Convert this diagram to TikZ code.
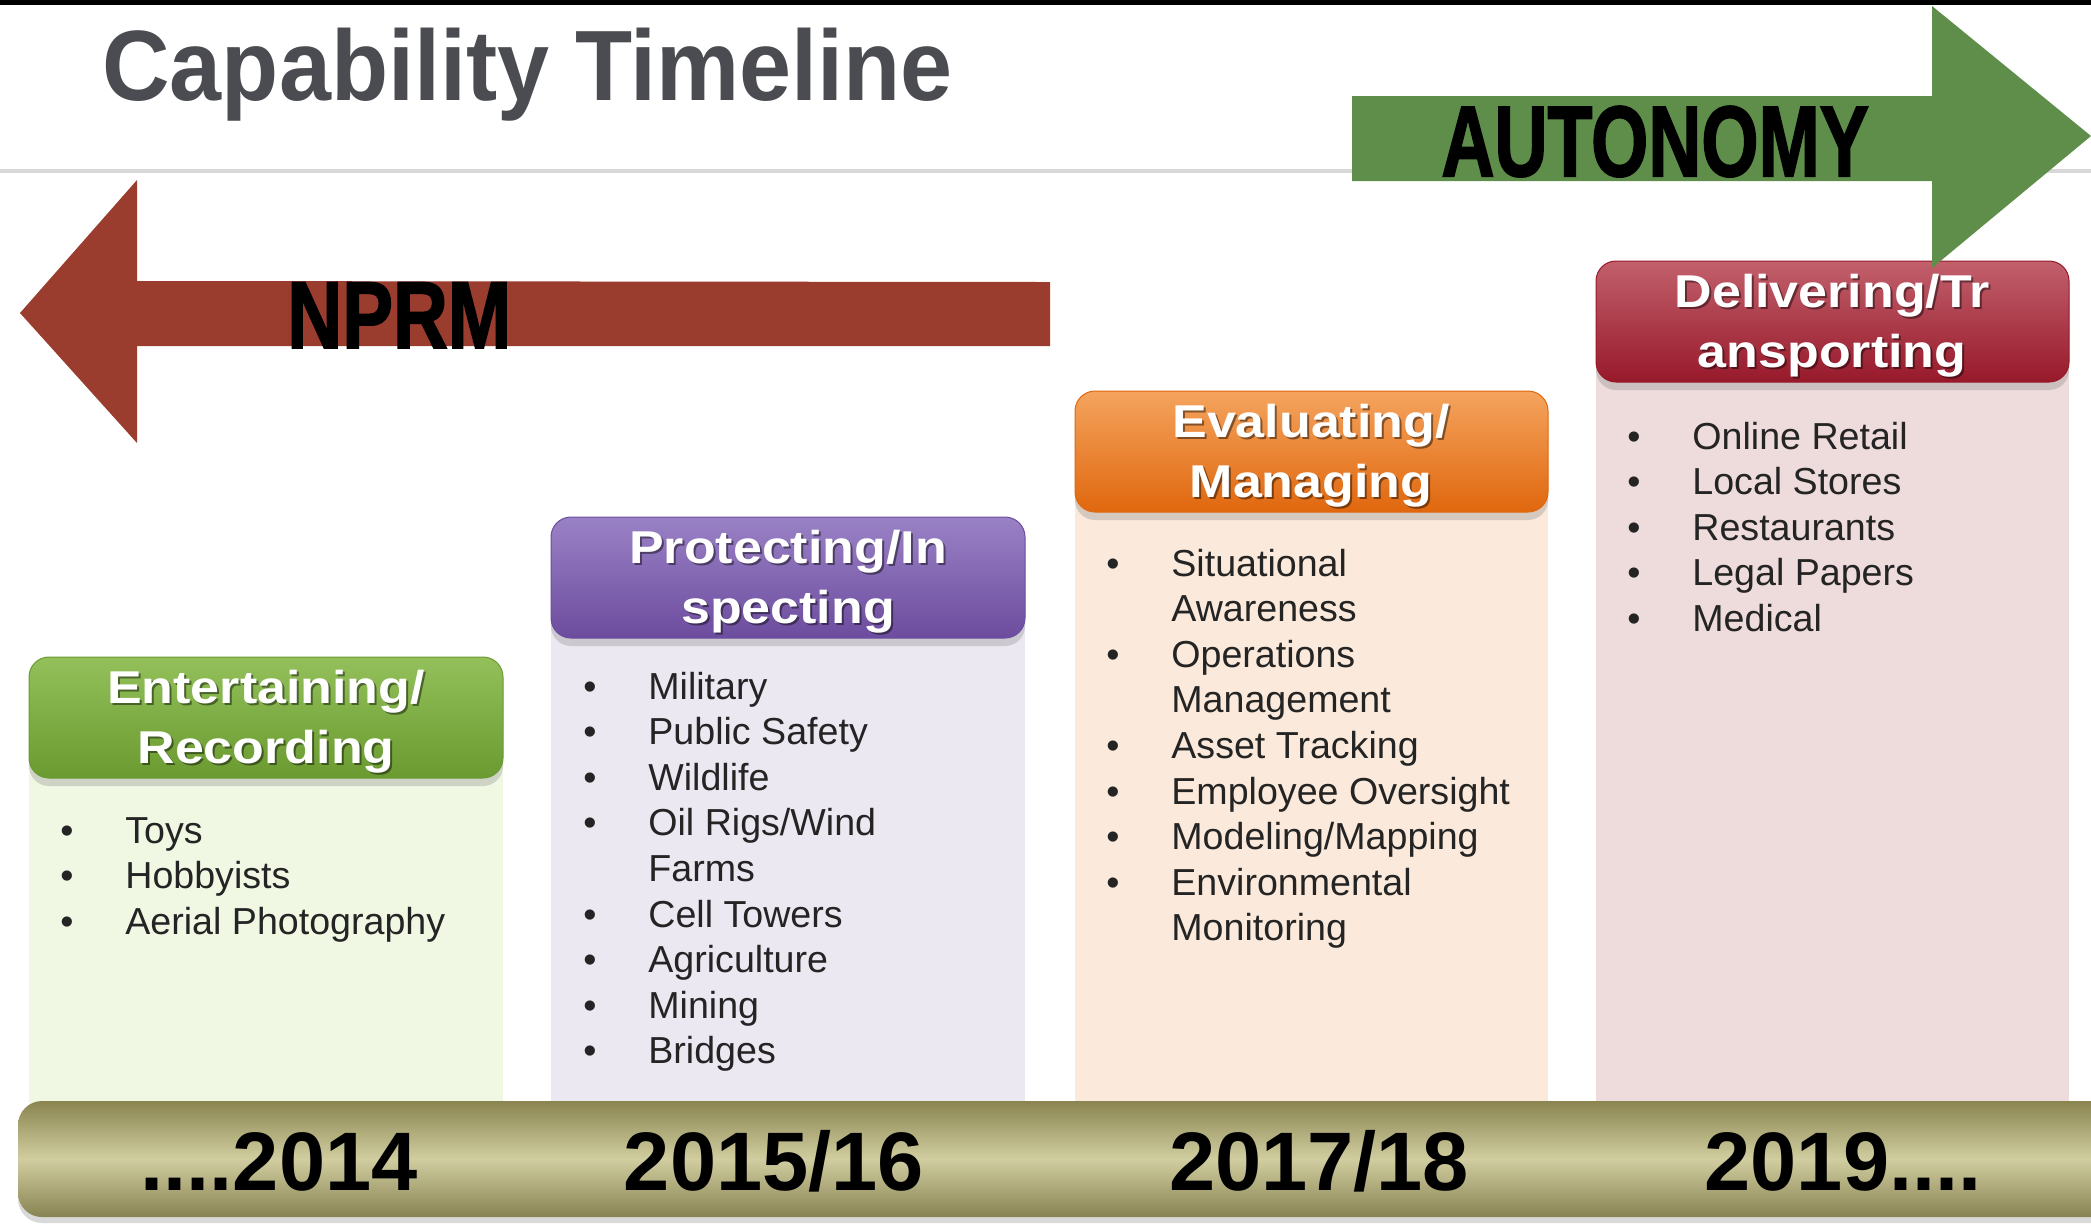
\documentclass[tikz,border=0pt]{standalone}
\usepackage{fontspec}
\setmainfont{Liberation Sans}
\newfontfamily\heavyfont{Liberation Sans}[BoldFeatures={FakeBold=2}]
\usepackage{xcolor}
\usepackage{tikz}
\usetikzlibrary{shadows}

\definecolor{titlegray}{HTML}{4A4C51}
\definecolor{rulegray}{HTML}{D8D8D8}
\definecolor{nprmred}{HTML}{9A3C2E}
\definecolor{autogreen}{HTML}{5F8E4B}
\definecolor{itemgray}{HTML}{242424}
% column colours
\definecolor{entlight}{HTML}{F0F8E4}
\definecolor{enttop}{HTML}{93C05A}
\definecolor{entbot}{HTML}{6A9A30}
\definecolor{prolight}{HTML}{ECE8F2}
\definecolor{protop}{HTML}{9A82C6}
\definecolor{probot}{HTML}{6C4C9E}
\definecolor{evalight}{HTML}{FBEADB}
\definecolor{evatop}{HTML}{F4A45E}
\definecolor{evabot}{HTML}{E0670E}
\definecolor{dellight}{HTML}{EEDBDB}
\definecolor{deltop}{HTML}{C2606C}
\definecolor{delbot}{HTML}{97192A}
% timeline bar
\definecolor{bartop}{HTML}{8A8550}
\definecolor{barmid}{HTML}{D0CDA0}
\definecolor{barbot}{HTML}{888352}

\newcommand{\twolines}[2]{\scalebox{1.13}[1]{\begin{tabular}[t]{@{}c@{}}#1\\#2\end{tabular}}}

\begin{document}
\begin{tikzpicture}[x=0.5pt,y=-0.5pt,
  header/.style={rounded corners=10pt,drop shadow={shadow xshift=0pt,shadow yshift=-4pt,opacity=.3}},
  headtext/.style={inner sep=0pt,anchor=base,text=white,font=\fontsize{23}{30}\selectfont\bfseries},
  headshade/.style={headtext,text=black,opacity=.45},
  items/.style={inner sep=0pt,anchor=base west,text=itemgray,font=\fontsize{18.8}{22.8}\selectfont},
  year/.style={inner sep=0pt,anchor=base,font=\fontsize{41.5}{48}\selectfont\bfseries},
  bigword/.style={inner sep=0pt,anchor=base west}]

    \useasboundingbox (0,0) rectangle (2091,1223);
    \clip (0,0) rectangle (2091,1223);

    % Title
    \fill[black] (0,0) rectangle (2091,5);
    \draw[rulegray,line width=2pt] (0,171) -- (2091,171);
    \node [anchor=base west,inner sep=0pt,text=titlegray,font=\fontsize{50}{60}\selectfont\bfseries] at (102,100) (title) {\scalebox{0.935}[1]{Capability Timeline}};

    % NPRM arrow
    \fill[nprmred] (20,313) -- (137,180) -- (137,281) -- (1050,282) -- (1050,346) -- (137,346) -- (137,443) -- cycle;
    \node [bigword,font=\heavyfont\bfseries\fontsize{47.5}{56}\selectfont] at (287,348) (nprm) {\scalebox{0.8}[1]{NPRM}};

    % Column bodies
    \fill[entlight] (29,720) rectangle (503,1110);
    \fill[prolight] (551,580) rectangle (1025,1110);
    \fill[evalight] (1075,452) rectangle (1548,1110);
    \fill[dellight] (1596,322) rectangle (2069,1110);

    % Column headers
    \path[header,top color=enttop,bottom color=entbot,draw=entbot,line width=0.5pt] (29,657) rectangle (503,778);
    \path[header,top color=protop,bottom color=probot,draw=probot,line width=0.5pt] (551,517) rectangle (1025,638);
    \path[header,top color=evatop,bottom color=evabot,draw=evabot,line width=0.5pt] (1075,391) rectangle (1548,512);
    \path[header,top color=deltop,bottom color=delbot,draw=delbot,line width=0.5pt] (1596,261) rectangle (2069,382);

    \node [headshade] at (268,705) (entS) {\twolines{Entertaining/}{Recording}};
    \node [headtext] at (266,703) (ent) {\twolines{Entertaining/}{Recording}};
    \node [headshade] at (790,565) (proS) {\twolines{Protecting/In}{specting}};
    \node [headtext] at (788,563) (pro) {\twolines{Protecting/In}{specting}};
    \node [headshade] at (1313,439) (evaS) {\twolines{Evaluating/}{Managing}};
    \node [headtext] at (1311,437) (eva) {\twolines{Evaluating/}{Managing}};
    \node [headshade] at (1834,309) (delS) {\twolines{Delivering/Tr}{ansporting}};
    \node [headtext] at (1832,307) (del) {\twolines{Delivering/Tr}{ansporting}};

    % AUTONOMY arrow
    \fill[autogreen] (1352,96) -- (1932,96) -- (1932,6) -- (2091,136) -- (1932,268) -- (1932,181) -- (1352,181) -- cycle;
    \node [bigword,font=\heavyfont\bfseries\fontsize{50}{58}\selectfont] at (1441,176) (auto) {\scalebox{0.735}[1]{AUTONOMY}};

    % Item lists
    \node [items] at (60,843) (entlist) {\begin{tabular}[t]{@{}p{32.5pt}@{}l@{}}
        \textbullet & Toys\\
        \textbullet & Hobbyists\\
        \textbullet & Aerial Photography
      \end{tabular}};
    \node [items] at (583,699) (prolist) {\begin{tabular}[t]{@{}p{32.5pt}@{}l@{}}
        \textbullet & Military\\
        \textbullet & Public Safety\\
        \textbullet & Wildlife\\
        \textbullet & Oil Rigs/Wind\\
                    & Farms\\
        \textbullet & Cell Towers\\
        \textbullet & Agriculture\\
        \textbullet & Mining\\
        \textbullet & Bridges
      \end{tabular}};
    \node [items] at (1106,576) (evalist) {\begin{tabular}[t]{@{}p{32.5pt}@{}l@{}}
        \textbullet & Situational\\
                    & Awareness\\
        \textbullet & Operations\\
                    & Management\\
        \textbullet & Asset Tracking\\
        \textbullet & Employee Oversight\\
        \textbullet & Modeling/Mapping\\
        \textbullet & Environmental\\
                    & Monitoring
      \end{tabular}};
    \node [items] at (1627,449) (dellist) {\begin{tabular}[t]{@{}p{32.5pt}@{}l@{}}
        \textbullet & Online Retail\\
        \textbullet & Local Stores\\
        \textbullet & Restaurants\\
        \textbullet & Legal Papers\\
        \textbullet & Medical
      \end{tabular}};

    % Timeline bar
    \path[rounded corners=12pt,top color=bartop,bottom color=barbot,middle color=barmid,drop shadow={shadow xshift=0pt,shadow yshift=-3pt,opacity=.3}] (18,1101) rectangle (2140,1217);
    \node [year] at (279,1190) (y2014) {....2014};
    \node [year] at (774,1190) (y2015) {2015/16};
    \node [year] at (1319,1190) (y2017) {2017/18};
    \node [year] at (1843,1190) (y2019) {2019....};

\end{tikzpicture}
\end{document}
